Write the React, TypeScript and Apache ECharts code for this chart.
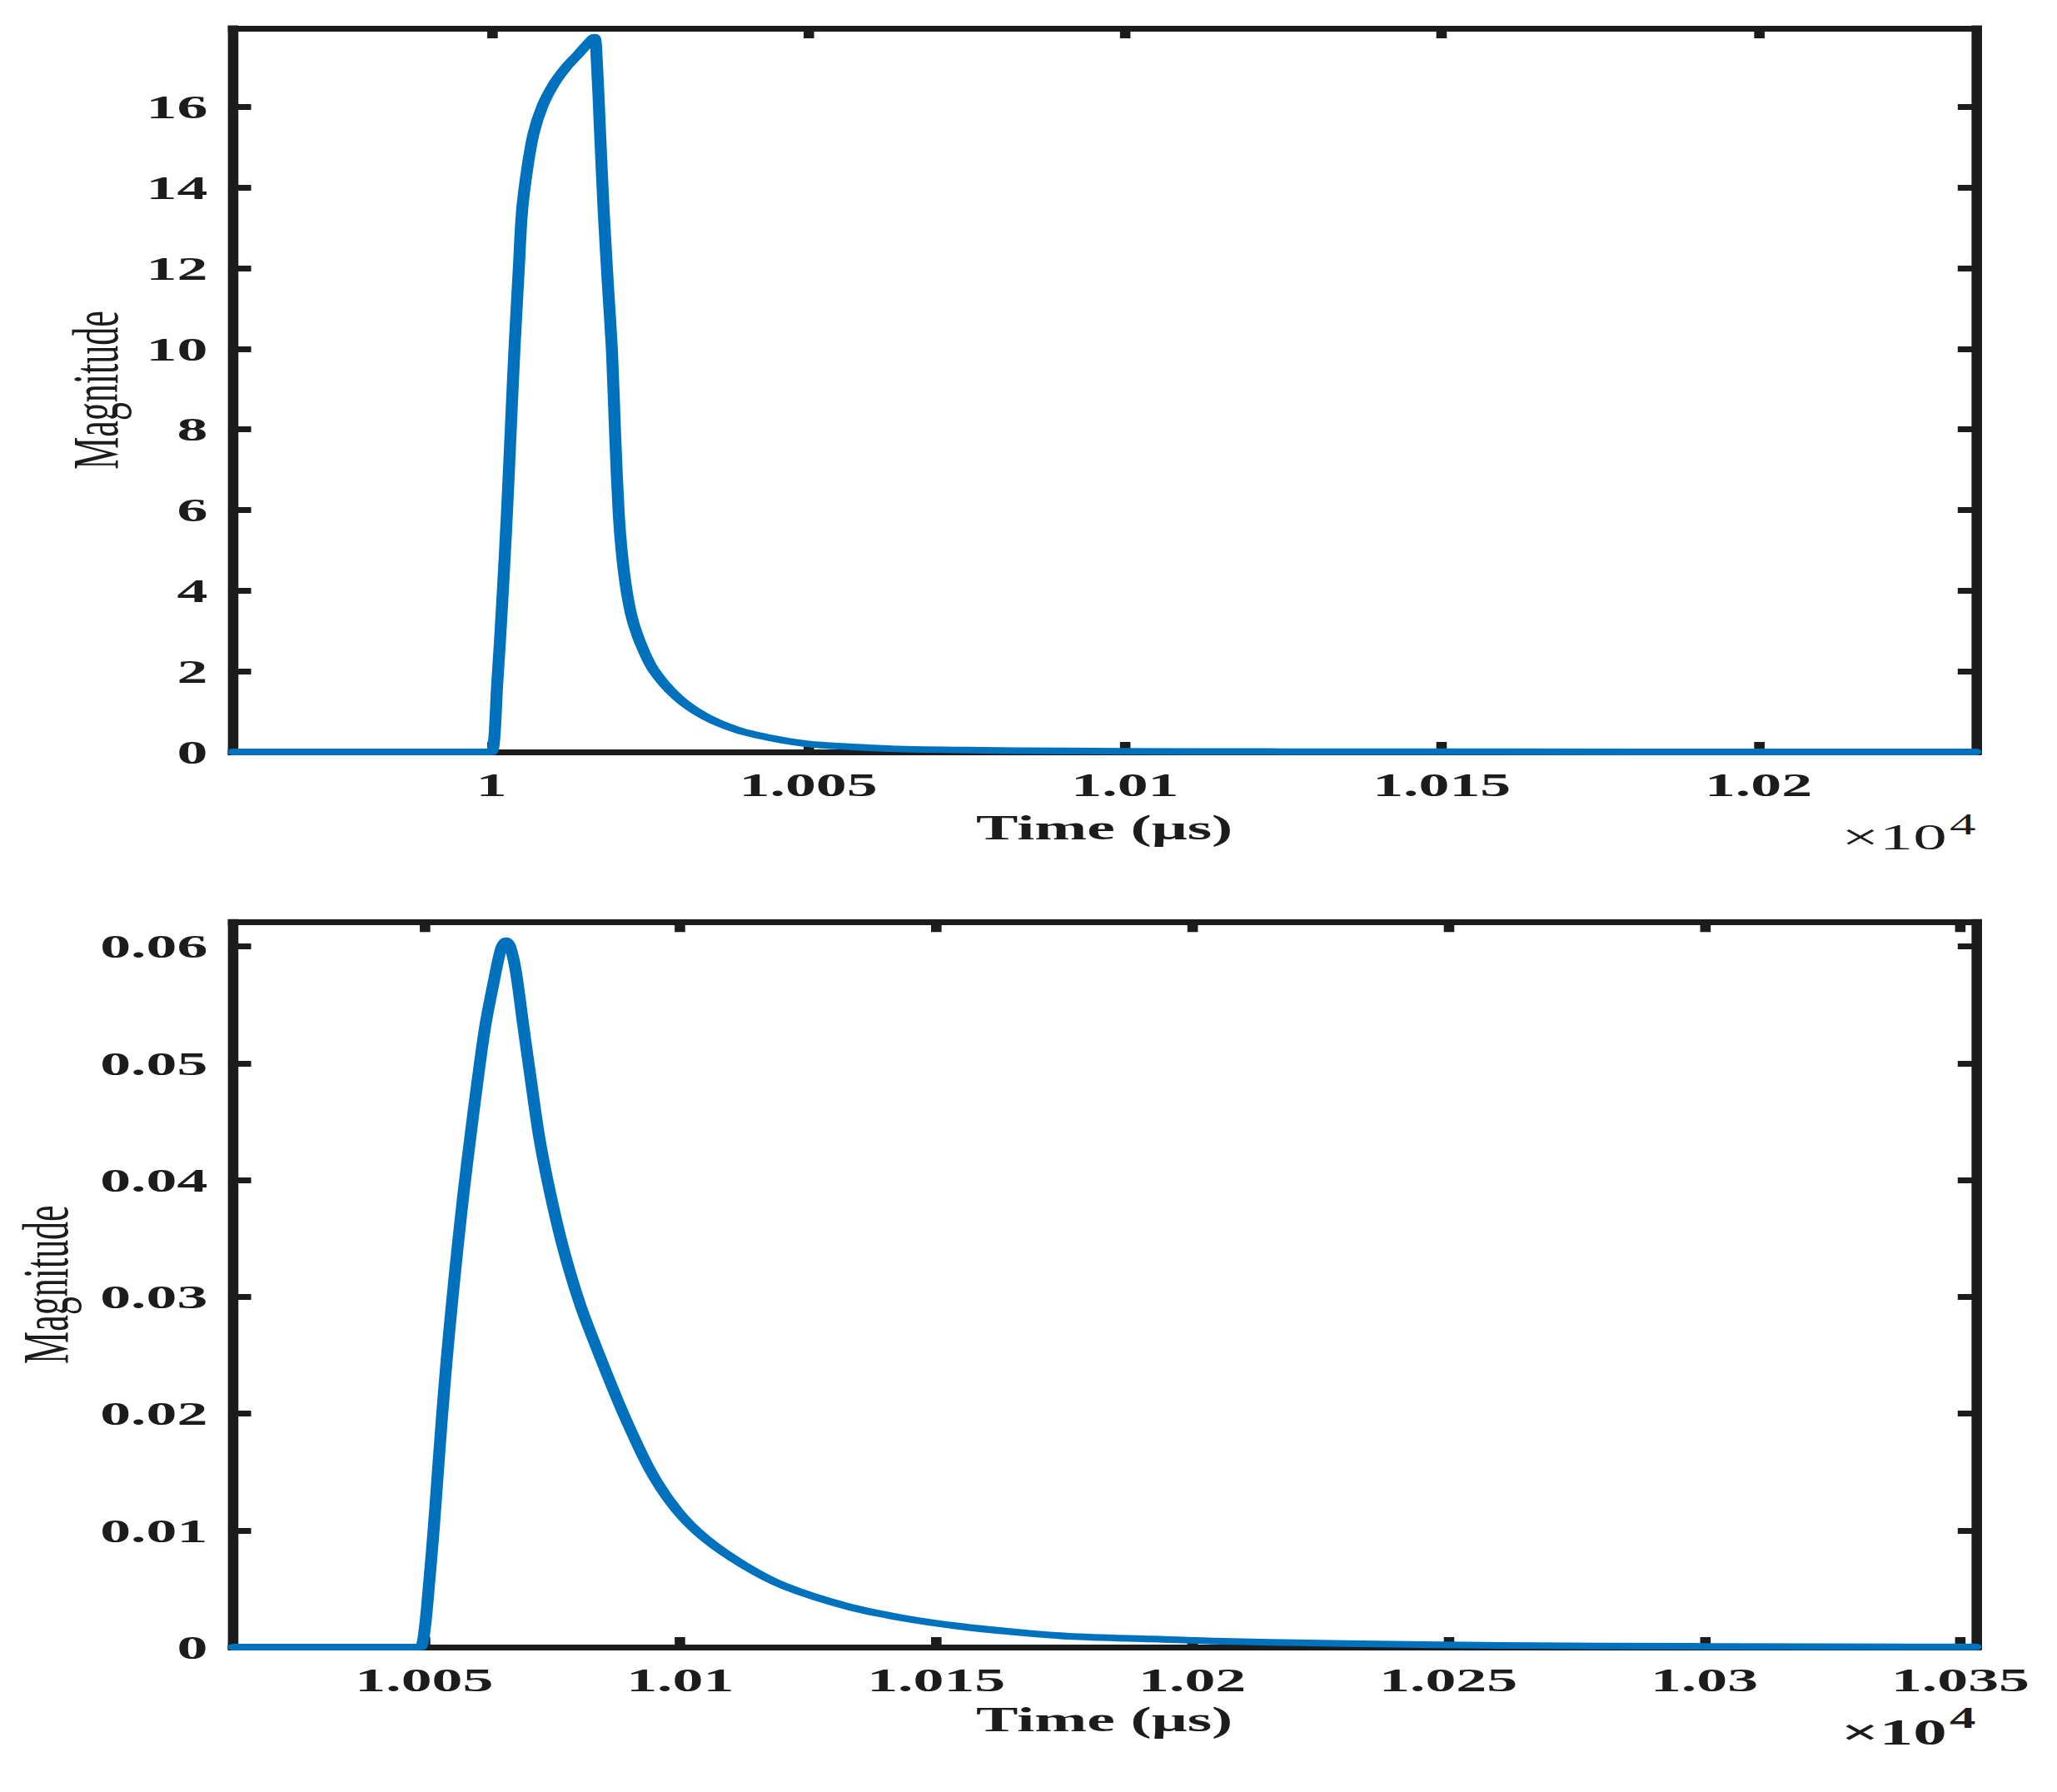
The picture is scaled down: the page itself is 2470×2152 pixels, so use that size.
import React, { useEffect, useRef } from 'react';
import * as echarts from 'echarts';

// ---------- data (time in µs, magnitude) ----------
const topTime = [
  9959.2, 9999.0, 10000.0, 10000.9, 10001.7, 10002.4, 10003.0, 10003.6, 10004.3, 10004.8, 10005.6,
  10006.6, 10008.0, 10009.8, 10011.7, 10013.7, 10015.3, 10016.2, 10016.6, 10017.1, 10017.7,
  10018.4, 10019.0, 10019.5, 10020.1, 10020.9, 10022.0, 10023.4, 10025.5, 10029.3, 10033.7,
  10038.9, 10044.6, 10049.9, 10056.4, 10063.0, 10075.0, 10090.0, 10110.0, 10140.0, 10180.0,
  10234.3,
];
const topMagnitude = [
  0, 0, 0, 1.71, 3.77, 5.84, 7.9, 9.96, 12.0, 13.4, 14.43,
  15.32, 16.01, 16.56, 16.97, 17.31, 17.59, 17.73, 17.18, 15.46, 13.4,
  11.5, 9.96, 7.9, 5.84, 4.46, 3.43, 2.74, 2.05, 1.36, 0.88,
  0.54, 0.33, 0.2, 0.13, 0.08, 0.045, 0.025, 0.012, 0.005, 0.002,
  0.0005,
];

const bottomTime = [
  10012.7, 10048.5, 10049.3, 10050.1, 10051.0, 10051.9, 10052.7, 10053.5, 10054.4, 10055.4,
  10056.5, 10057.7, 10059.0, 10060.4, 10061.9, 10063.6, 10065.0, 10066.0, 10066.8, 10067.9,
  10069.4, 10070.9, 10072.5, 10074.6, 10077.2, 10080.5, 10084.6, 10089.1, 10094.2, 10099.4,
  10104.9, 10112.5, 10120.5, 10132.5, 10143.4, 10154.2, 10165.1, 10175.9, 10192.2, 10206.0,
  10230.0, 10260.0, 10300.0, 10353.0,
];
const bottomMagnitude = [
  0, 0, 0, 0.0015, 0.0056, 0.0103, 0.0151, 0.0198, 0.0246, 0.0293,
  0.0341, 0.0389, 0.0436, 0.0484, 0.0531, 0.057, 0.0598, 0.0605, 0.06, 0.0579,
  0.0531, 0.0484, 0.0436, 0.0389, 0.0341, 0.0293, 0.0246, 0.0198, 0.0151, 0.0117,
  0.0093, 0.007, 0.0052, 0.0035, 0.0025, 0.0018, 0.0013, 0.00093, 0.00069, 0.0005,
  0.0003, 0.00015, 0.00006, 0.00001,
];

// ---------- axis ticks ----------
const topXTicks = [10000, 10050, 10100, 10150, 10200];
const topYTicks = [0, 2, 4, 6, 8, 10, 12, 14, 16];
const bottomXTicks = [10050, 10100, 10150, 10200, 10250, 10300, 10350];
const bottomYTicks = [0, 0.01, 0.02, 0.03, 0.04, 0.05, 0.06];

const topXRange = [9959.2, 10234.3];
const topYRange = [0, 17.95];
const bottomXRange = [10012.7, 10353.0];
const bottomYRange = [0, 0.0621];

const xLabel = 'Time (μs)';
const yLabel = 'Magnitude';
const expText = '×10';
const expPower = '4';

// ---------- layout ----------
const PAGE_W = 2470;
const PAGE_H = 2152;
const CHART_W = 1372;
const STRETCH = PAGE_W / CHART_W;

const FONT = "'Liberation Serif', 'Times New Roman', serif";
const INK = '#1c1c1c';
const BLUE = '#0072BD';

const pairs = (xs: number[], ys: number[]) => xs.map((x, i) => [x, ys[i]]);
const fmtX = (v: number) => String(parseFloat((v / 10000).toFixed(4)));

function buildXAxes(gridIndex: number, range: number[], ticks: number[], nameGap: number) {
  const base: any = {
    type: 'value',
    gridIndex,
    min: range[0],
    max: range[1],
    axisLine: { show: true, onZero: false, lineStyle: { color: INK, width: 7, cap: 'square' } },
    axisTick: { show: true, inside: true, length: 12, customValues: ticks, lineStyle: { color: INK, width: 7 } },
    splitLine: { show: false },
  };
  return [
    {
      ...base,
      position: 'bottom',
      axisLabel: {
        show: true,
        customValues: ticks,
        margin: 19,
        formatter: fmtX,
        fontFamily: FONT,
        fontWeight: 'bold',
        fontSize: 41,
        color: INK,
      },
      name: xLabel,
      nameLocation: 'middle',
      nameGap,
      nameTextStyle: { fontFamily: FONT, fontWeight: 'bold', fontSize: 42, color: INK },
    },
    { ...base, position: 'top', axisLabel: { show: false } },
  ];
}

function buildYAxes(
  gridIndex: number,
  range: number[],
  ticks: number[],
  nameGap: number,
  fmt: (v: number) => string
) {
  const base: any = {
    type: 'value',
    gridIndex,
    min: range[0],
    max: range[1],
    axisLine: { show: true, onZero: false, lineStyle: { color: INK, width: 7, cap: 'square' } },
    axisTick: { show: true, inside: true, length: 12, customValues: ticks, lineStyle: { color: INK, width: 7 } },
    splitLine: { show: false },
  };
  return [
    {
      ...base,
      position: 'left',
      axisLabel: {
        show: true,
        customValues: ticks,
        margin: 17,
        formatter: fmt,
        fontFamily: FONT,
        fontWeight: 'bold',
        fontSize: 41,
        color: INK,
      },
      name: yLabel,
      nameLocation: 'middle',
      nameGap,
      nameRotate: 90,
      nameTextStyle: { fontFamily: FONT, fontWeight: 'normal', fontSize: 44, color: INK },
    },
    { ...base, position: 'right', axisLabel: { show: false } },
  ];
}

function expLabel(xRight: number, yBase: number, bold: boolean) {
  return {
    type: 'text',
    x: xRight,
    y: yBase + 7.4,
    z: 10,
    style: {
      text: expText,
      fontFamily: FONT,
      fontSize: 45,
      fontWeight: bold ? 'bold' : 'normal',
      fill: INK,
      align: 'right',
      verticalAlign: 'bottom',
      textAlign: 'right',
      textVerticalAlign: 'bottom',
    },
  };
}

function expPowerLabel(xRight: number, yBase: number, bold: boolean) {
  return {
    type: 'text',
    x: xRight,
    y: yBase + 5.8,
    z: 10,
    style: {
      text: expPower,
      fontFamily: FONT,
      fontSize: 35,
      fontWeight: bold ? 'bold' : 'normal',
      fill: INK,
      align: 'right',
      verticalAlign: 'bottom',
      textAlign: 'right',
      textVerticalAlign: 'bottom',
    },
  };
}

export default function App() {
  const ref = useRef<HTMLDivElement>(null);

  useEffect(() => {
    if (!ref.current) return;
    const chart = echarts.init(ref.current, undefined, { renderer: 'svg' });
    const lineStyle = { color: BLUE, width: 8, join: 'round', cap: 'round' };
    const option: any = {
      animation: false,
      backgroundColor: '#ffffff',
      grid: [
        { left: 155.5, right: 54.2, top: 34, height: 869, containLabel: false },
        { left: 155.5, right: 54.2, top: 1107.3, height: 870.7, containLabel: false },
      ],
      xAxis: [...buildXAxes(0, topXRange, topXTicks, 70), ...buildXAxes(1, bottomXRange, bottomXTicks, 66)],
      yAxis: [
        ...buildYAxes(0, topYRange, topYTicks, 70, (v: number) => String(v)),
        ...buildYAxes(1, bottomYRange, bottomYTicks, 103, (v: number) => (v === 0 ? '0' : v.toFixed(2))),
      ],
      series: [
        {
          type: 'line',
          xAxisIndex: 0,
          yAxisIndex: 0,
          data: pairs(topTime, topMagnitude),
          showSymbol: false,
          symbol: 'none',
          smooth: 0.3,
          lineStyle,
          z: 5,
        },
        {
          type: 'line',
          xAxisIndex: 2,
          yAxisIndex: 2,
          data: pairs(bottomTime, bottomMagnitude),
          showSymbol: false,
          symbol: 'none',
          smooth: 0.3,
          lineStyle,
          z: 5,
        },
      ],
      graphic: [
        expLabel(1298.5, 1020, false),
        expPowerLabel(1317.8, 1001.7, false),
        expLabel(1298.5, 2095, true),
        expPowerLabel(1317.8, 2075, true),
      ],
    };
    chart.setOption(option);
    return () => chart.dispose();
  }, []);

  return (
    <div
      style={{
        position: 'absolute',
        left: 0,
        top: 0,
        width: PAGE_W,
        height: PAGE_H,
        overflow: 'hidden',
        background: '#ffffff',
      }}
    >
      <div
        ref={ref}
        style={{
          width: CHART_W,
          height: PAGE_H,
          transform: `scaleX(${STRETCH})`,
          transformOrigin: '0 0',
        }}
      />
    </div>
  );
}
